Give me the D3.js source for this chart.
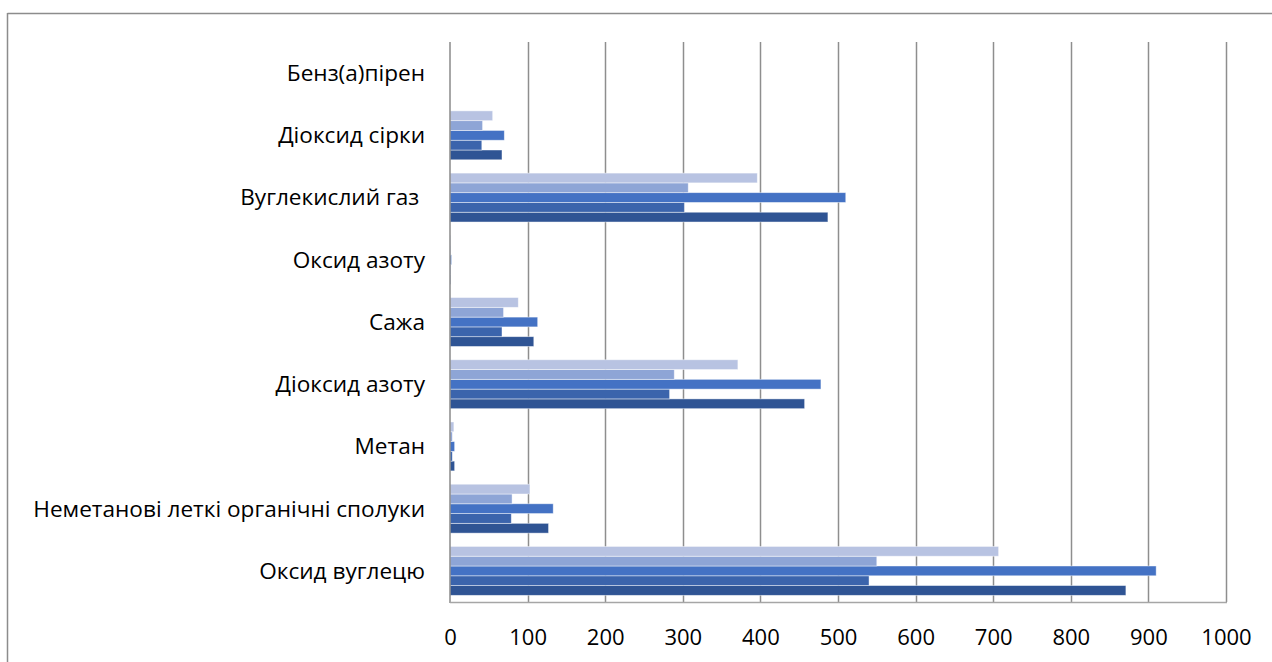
<!DOCTYPE html>
<html>
<head>
<meta charset="utf-8">
<script src="https://cdn.jsdelivr.net/npm/d3@7"></script>
<style>
  html, body { margin: 0; padding: 0; background: #fff; }
  svg { display: block; }
  text { fill: #000; }
</style>
</head>
<body>
<svg id="chart" width="1272" height="662"></svg>
<script>
// Pollutant categories, listed top to bottom
const categories = [
  "Бенз(а)пірен",
  "Діоксид сірки",
  "Вуглекислий газ ",
  "Оксид азоту",
  "Сажа",
  "Діоксид азоту",
  "Метан",
  "Неметанові леткі органічні сполуки",
  "Оксид вуглецю"
];

// Five series per category; s1 is drawn lowest in each group, s5 highest
const s1 = [0.01, 67, 487, 1, 108, 457, 6, 127, 871];
const s2 = [0.01, 41, 302, 1, 67, 283, 3, 79, 540];
const s3 = [0.01, 70, 510, 2, 113, 478, 6, 133, 910];
const s4 = [0.01, 42, 307, 1, 69, 289, 3, 80, 550];
const s5 = [0.01, 55, 396, 1, 88, 371, 5, 103, 707];

const seriesKeys = ["s1", "s2", "s3", "s4", "s5"];
const seriesValues = { s1, s2, s3, s4, s5 };
const seriesColors = {
  s1: "#2F5494",
  s2: "#3B64AC",
  s3: "#4472C4",
  s4: "#8EA5D6",
  s5: "#B8C3E2"
};

const xTicks = [0, 100, 200, 300, 400, 500, 600, 700, 800, 900, 1000];

const svg = d3.select("#chart");

// Outer chart frame (top and left edges visible)
svg.append("line").attr("x1", 7.5).attr("x2", 1272).attr("y1", 13.5).attr("y2", 13.5)
  .attr("stroke", "#8c8c8c").attr("stroke-width", 1.5);
svg.append("line").attr("x1", 7.5).attr("x2", 7.5).attr("y1", 13).attr("y2", 662)
  .attr("stroke", "#8c8c8c").attr("stroke-width", 1.5);

const plot = { left: 450, right: 1226, top: 42, bottom: 602 };

const x = d3.scaleLinear().domain([0, 1000]).range([plot.left, plot.right]);
const y = d3.scaleBand().domain(categories).range([plot.top, plot.bottom]).paddingInner(0).paddingOuter(0);

// Series order inside a group, top to bottom
const inner = d3.scaleBand()
  .domain(seriesKeys.slice().reverse())
  .range([0, y.bandwidth()])
  .paddingInner(0)
  .paddingOuter(0.68);

// Vertical gridlines
svg.append("g")
  .selectAll("line")
  .data(xTicks.slice(1))
  .join("line")
  .attr("x1", d => Math.round(x(d)) + 0.5)
  .attr("x2", d => Math.round(x(d)) + 0.5)
  .attr("y1", plot.top)
  .attr("y2", plot.bottom)
  .attr("stroke", "#8e8e8e")
  .attr("stroke-width", 1.5);

// Bars
const rows = [];
categories.forEach((c, i) => {
  seriesKeys.forEach(k => rows.push({ category: c, key: k, value: seriesValues[k][i] }));
});

svg.append("g")
  .selectAll("rect")
  .data(rows)
  .join("rect")
  .attr("x", x(0))
  .attr("y", d => y(d.category) + inner(d.key))
  .attr("width", d => Math.max(0, x(d.value) - x(0)))
  .attr("height", inner.bandwidth())
  .attr("fill", d => seriesColors[d.key])
  .attr("stroke", "rgba(255,255,255,0.55)")
  .attr("stroke-width", 0.8);

// Category axis line and horizontal value axis line
svg.append("line")
  .attr("x1", plot.left).attr("x2", plot.left)
  .attr("y1", plot.top).attr("y2", plot.bottom + 1)
  .attr("stroke", "#8a8a8a").attr("stroke-width", 1.5);
svg.append("line")
  .attr("x1", plot.left).attr("x2", Math.round(plot.right) + 1)
  .attr("y1", plot.bottom + 0.5).attr("y2", plot.bottom + 0.5)
  .attr("stroke", "#a6a6a6").attr("stroke-width", 1.5);

// Value axis labels
const xAxis = d3.axisBottom(x).tickValues(xTicks).tickSize(0).tickPadding(0).tickFormat(d3.format("d"));
const gx = svg.append("g").attr("transform", `translate(0,${plot.bottom + 43})`).call(xAxis);
gx.select(".domain").remove();
gx.selectAll("text")
  .attr("y", 0)
  .attr("dy", 0)
  .style("font-size", "22px")
  .style("font-family", "'Open Sans', Lato, sans-serif")
  .attr("fill", "#000");

// Category labels
const yAxis = d3.axisLeft(y).tickSize(0).tickPadding(0);
const gy = svg.append("g").attr("transform", `translate(${plot.left - 25},0)`).call(yAxis);
gy.select(".domain").remove();
gy.selectAll("text")
  .attr("dy", "0.35em")
  .style("font-size", "22.6px")
  .style("white-space", "pre")
  .attr("xml:space", "preserve")
  .style("font-family", "'Open Sans', Lato, sans-serif")
  .attr("fill", "#000");
</script>
</body>
</html>
